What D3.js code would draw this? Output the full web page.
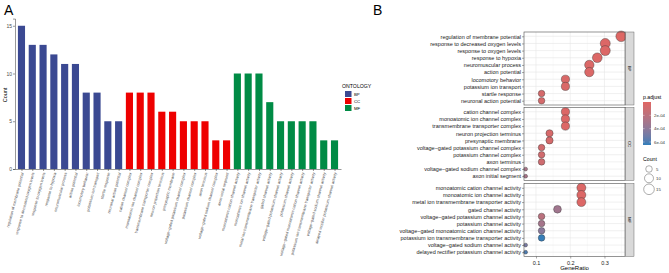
<!DOCTYPE html>
<html>
<head>
<meta charset="utf-8">
<script src="https://cdn.jsdelivr.net/npm/d3@7"></script>
<style>
  body { margin: 0; background: #fff; }
  svg { font-family: "Liberation Sans", Arial, sans-serif; }
</style>
</head>
<body>
<svg id="chart"></svg>
<script>
const ontologies = ['BP', 'CC', 'MF'];

const bpTerms = ['regulation of membrane potential', 'response to decreased oxygen levels', 'response to oxygen levels',
    'response to hypoxia', 'neuromuscular process', 'action potential', 'locomotory behavior',
    'potassium ion transport', 'startle response', 'neuronal action potential'];
const bpCounts = [15, 13, 13, 12, 11, 11, 8, 8, 5, 5];
const bpPadj = [0.00001, 0.00002, 0.00002, 0.00002, 0.00003, 0.00003, 0.00004, 0.00004, 0.00006, 0.00006];

const ccTerms = ['cation channel complex', 'monoatomic ion channel complex', 'transmembrane transporter complex',
    'neuron projection terminus', 'presynaptic membrane', 'voltage\u2212gated potassium channel complex',
    'potassium channel complex', 'axon terminus', 'voltage\u2212gated sodium channel complex', 'axon initial segment'];
const ccCounts = [8, 8, 8, 6, 6, 5, 5, 5, 3, 3];
const ccPadj = [0.00002, 0.00002, 0.00002, 0.00005, 0.00006, 0.00008, 0.00008, 0.0001, 0.00028, 0.00028];

const mfTerms = ['monoatomic cation channel activity', 'monoatomic ion channel activity',
    'metal ion transmembrane transporter activity', 'gated channel activity',
    'voltage\u2212gated potassium channel activity', 'potassium channel activity',
    'voltage\u2212gated monoatomic cation channel activity', 'potassium ion transmembrane transporter activity',
    'voltage\u2212gated sodium channel activity', 'delayed rectifier potassium channel activity'];
const mfCounts = [10, 10, 10, 7, 5, 5, 5, 5, 3, 3];
const mfPadj = [0.00002, 0.00002, 0.00002, 0.00032, 0.0002, 0.0003, 0.00042, 0.00064, 0.00048, 0.0006];

const geneTotal = 43;
const ontologyColors = ['#3B4992', '#EE0000', '#008B45'];
const padjTicks = [0.0002, 0.0004, 0.0006];
const countTicks = [5, 10, 15];
const ratioTicks = [0.1, 0.2, 0.3];

const groups = [
    { ont: 'BP', terms: bpTerms, counts: bpCounts, padj: bpPadj },
    { ont: 'CC', terms: ccTerms, counts: ccCounts, padj: ccPadj },
    { ont: 'MF', terms: mfTerms, counts: mfCounts, padj: mfPadj }
];
const rows = groups.flatMap(g => g.terms.map((t, i) => ({
    ont: g.ont, term: t, count: g.counts[i], padj: g.padj[i], ratio: g.counts[i] / geneTotal
})));

const width = 669, height = 273;
const svg = d3.select('#chart').attr('width', width).attr('height', height);

// ---------- panel A: bar chart ----------
svg.append('text').attr('x', 4).attr('y', 15).attr('font-size', 14).text('A');

const x = d3.scalePoint().domain(rows.map(d => d.term)).range([15, 341]).padding(0.6);
const y = d3.scaleLinear().domain([0, 15.75]).range([169, 18.6]);
const color = d3.scaleOrdinal().domain(ontologies).range(ontologyColors);
const barW = x.step() * 0.66;

const gA = svg.append('g');
gA.selectAll('.bar')
    .data(rows)
    .enter().append('rect')
    .attr('class', 'bar')
    .attr('x', d => x(d.term) - barW / 2)
    .attr('y', d => y(d.count))
    .attr('width', barW)
    .attr('height', d => y(0) - y(d.count))
    .attr('fill', d => color(d.ont));

const yAxis = gA.append('g')
    .attr('transform', `translate(15,0)`)
    .call(d3.axisLeft(y).tickValues([0, 5, 10, 15]).tickSize(2).tickPadding(1));
yAxis.select('.domain').attr('stroke', '#333').attr('stroke-width', 0.5);
yAxis.selectAll('.tick line').attr('stroke', '#333').attr('stroke-width', 0.5);
yAxis.selectAll('text').attr('font-size', 5).attr('fill', '#4d4d4d');

const xAxis = gA.append('g')
    .attr('transform', `translate(0,${y(0)})`)
    .call(d3.axisBottom(x).tickSize(2).tickSizeOuter(0).tickFormat(''));
xAxis.select('.domain').attr('stroke', '#333').attr('stroke-width', 0.5);
xAxis.selectAll('.tick line').attr('stroke', '#333').attr('stroke-width', 0.5);

gA.selectAll('.xlab')
    .data(rows)
    .enter().append('text')
    .attr('class', 'xlab')
    .attr('transform', d => `translate(${x(d.term) + 1},${y(0) + 3.5}) rotate(-75)`)
    .attr('text-anchor', 'end')
    .attr('dy', '0.35em')
    .attr('font-size', 3.9)
    .attr('fill', '#4d4d4d')
    .text(d => d.term);

gA.append('text')
    .attr('transform', 'translate(7,95) rotate(-90)')
    .attr('text-anchor', 'middle')
    .attr('font-size', 5.5)
    .text('Count');

// legend
const legA = svg.append('g').attr('transform', 'translate(345,0)');
legA.append('text').attr('x', -3).attr('y', 88).attr('font-size', 5.2).text('ONTOLOGY');
ontologies.forEach((o, i) => {
    legA.append('rect').attr('x', 0).attr('y', 91 + i * 7).attr('width', 6.5).attr('height', 6)
        .attr('fill', color(o));
    legA.append('text').attr('x', 9).attr('y', 94 + i * 7).attr('dy', '0.35em')
        .attr('font-size', 4.3).text(o);
});

// ---------- panel B: dot plot ----------
svg.append('text').attr('x', 373).attr('y', 15).attr('font-size', 14).text('B');

const xr = d3.scaleLinear().domain([0.065, 0.36]).range([524, 625]);
const panelRanges = { BP: [32, 105], CC: [107.5, 180.5], MF: [183.5, 256.5] };
const fill = d3.scaleSequential(d3.interpolateLab('#e06663', '#327eba')).domain([0, 0.000645]);
const cMin = d3.min(rows, d => d.count), cMax = d3.max(rows, d => d.count);
const diam = c => 3.8 + 6.8 * Math.sqrt((c - cMin) / (cMax - cMin));

const gB = svg.append('g');
groups.forEach(g => {
    const [top, bottom] = panelRanges[g.ont];
    const yp = d3.scalePoint().domain(g.terms).range([top, bottom]).padding(0.6);
    const p = gB.append('g');
    p.append('rect').attr('x', 524).attr('y', top).attr('width', 101).attr('height', bottom - top)
        .attr('fill', '#fff');
    // minor grid
    p.selectAll('.vminor').data([0.15, 0.25, 0.35]).enter().append('line')
        .attr('x1', d => xr(d)).attr('x2', d => xr(d)).attr('y1', top).attr('y2', bottom)
        .attr('stroke', '#f2f2f2').attr('stroke-width', 0.4);
    p.selectAll('.vmajor').data(ratioTicks).enter().append('line')
        .attr('x1', d => xr(d)).attr('x2', d => xr(d)).attr('y1', top).attr('y2', bottom)
        .attr('stroke', '#e6e6e6').attr('stroke-width', 0.6);
    p.selectAll('.hmajor').data(g.terms).enter().append('line')
        .attr('x1', 524).attr('x2', 625).attr('y1', d => yp(d)).attr('y2', d => yp(d))
        .attr('stroke', '#e6e6e6').attr('stroke-width', 0.6);

    const data = rows.filter(r => r.ont === g.ont);
    p.selectAll('circle').data(data).enter().append('circle')
        .attr('cx', d => xr(d.ratio)).attr('cy', d => yp(d.term)).attr('r', d => diam(d.count) / 2)
        .attr('fill', d => fill(d.padj)).attr('stroke', '#333').attr('stroke-width', 0.4);

    p.append('rect').attr('x', 524).attr('y', top).attr('width', 101).attr('height', bottom - top)
        .attr('fill', 'none').attr('stroke', '#4d4d4d').attr('stroke-width', 0.6);

    const ax = p.append('g').attr('transform', 'translate(524,0)')
        .call(d3.axisLeft(yp).tickSize(2).tickPadding(1));
    ax.select('.domain').remove();
    ax.selectAll('.tick line').attr('stroke', '#4d4d4d').attr('stroke-width', 0.5);
    ax.selectAll('text').attr('font-size', 5.5).attr('fill', '#1a1a1a');

    // facet strip
    p.append('rect').attr('x', 625.5).attr('y', top).attr('width', 8.5).attr('height', bottom - top)
        .attr('fill', '#d9d9d9').attr('stroke', '#4d4d4d').attr('stroke-width', 0.4);
    p.append('text')
        .attr('transform', `translate(629.8,${(top + bottom) / 2}) rotate(90)`)
        .attr('text-anchor', 'middle').attr('dy', '0.35em')
        .attr('font-size', 4.3).attr('fill', '#1a1a1a').text(g.ont);
});

const xb = gB.append('g').attr('transform', 'translate(0,256.5)')
    .call(d3.axisBottom(xr).tickValues(ratioTicks).tickSize(2).tickSizeOuter(0).tickFormat(d3.format('.1f')));
xb.select('.domain').remove();
xb.selectAll('.tick line').attr('stroke', '#4d4d4d').attr('stroke-width', 0.5);
xb.selectAll('text').attr('font-size', 5.5).attr('fill', '#1a1a1a');
gB.append('text').attr('x', 574.5).attr('y', 270).attr('text-anchor', 'middle')
    .attr('font-size', 6).text('GeneRatio');

// colour bar legend
const cb = svg.append('g');
cb.append('text').attr('x', 643).attr('y', 98.5).attr('font-size', 5.2).text('p.adjust');
const defs = svg.append('defs');
const grad = defs.append('linearGradient').attr('id', 'padj').attr('x1', 0).attr('x2', 0).attr('y1', 0).attr('y2', 1);
d3.range(0, 1.01, 0.1).forEach(t => {
    grad.append('stop').attr('offset', t).attr('stop-color', fill(t * 0.000645));
});
const cy = d3.scaleLinear().domain([0, 0.000645]).range([102, 145]);
cb.append('rect').attr('x', 643).attr('y', 102).attr('width', 8).attr('height', 43).attr('fill', 'url(#padj)');
padjTicks.forEach(t => {
    cb.append('line').attr('x1', 643).attr('x2', 644.6).attr('y1', cy(t)).attr('y2', cy(t))
        .attr('stroke', '#fff').attr('stroke-width', 0.4);
    cb.append('line').attr('x1', 649.4).attr('x2', 651).attr('y1', cy(t)).attr('y2', cy(t))
        .attr('stroke', '#fff').attr('stroke-width', 0.4);
    cb.append('text').attr('x', 654).attr('y', cy(t)).attr('dy', '0.35em')
        .attr('font-size', 4.3).attr('fill', '#333').text(d3.format('.0e')(t).replace('e-4', 'e-04'));
});

// size legend
cb.append('text').attr('x', 643).attr('y', 161).attr('font-size', 5.2).text('Count');
const sizeY = [169, 178.3, 189.3];
countTicks.forEach((c, i) => {
    cb.append('circle').attr('cx', 649).attr('cy', sizeY[i]).attr('r', diam(c) / 2)
        .attr('fill', 'none').attr('stroke', '#333').attr('stroke-width', 0.4);
    cb.append('text').attr('x', 656).attr('y', sizeY[i]).attr('dy', '0.35em')
        .attr('font-size', 4.3).attr('fill', '#333').text(c);
});
</script>
</body>
</html>
